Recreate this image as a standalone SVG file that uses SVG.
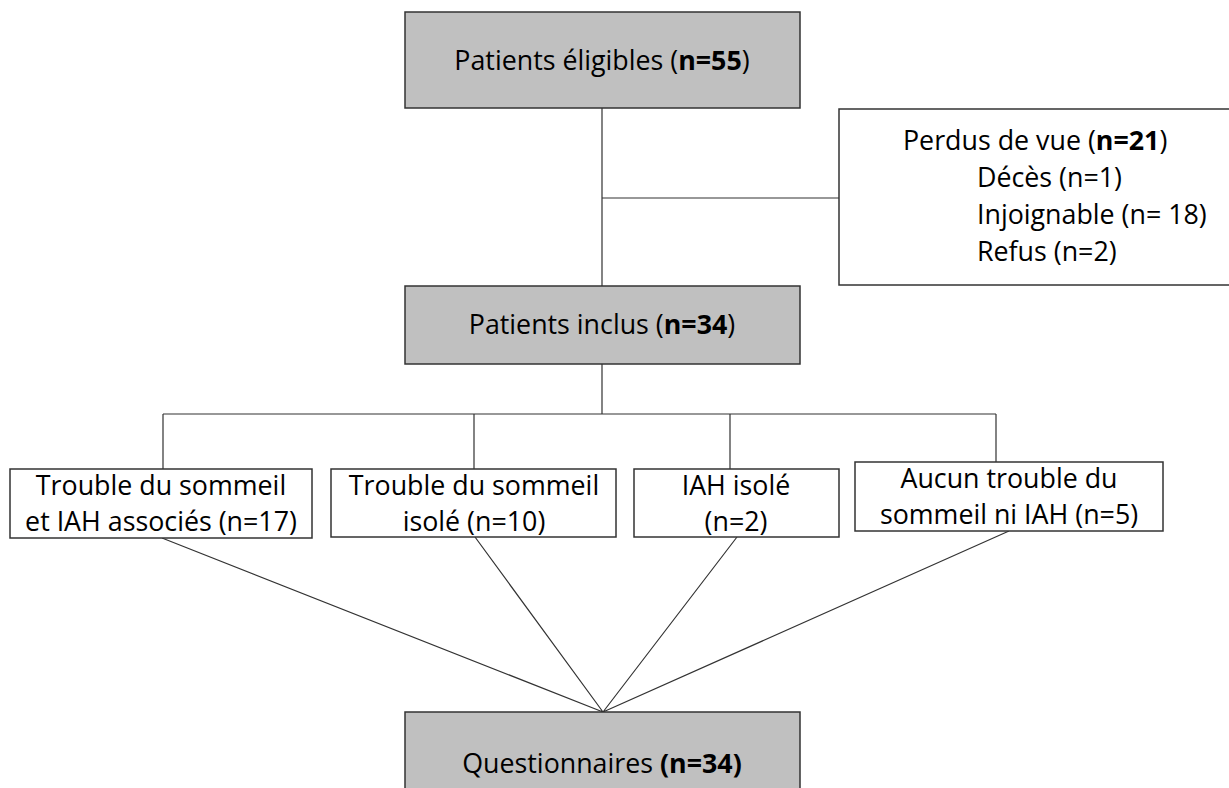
<svg xmlns="http://www.w3.org/2000/svg" width="1229" height="788" viewBox="0 0 1229 788">
<style>
.g{fill:#c0c0c0;stroke:#333;stroke-width:1.5}
.w{fill:#fff;stroke:#333;stroke-width:1.5}
.l{fill:none;stroke:#333;stroke-width:1.2}
text{font-family:"Open Sans","Liberation Sans",Arial,sans-serif;font-size:26.8px;fill:#000}
.c{text-anchor:middle}
.b{font-weight:bold}
</style>
<rect width="1229" height="788" fill="#fff"/>
<g id="connectors">
<path class="l" d="M602,108V286M602,198H839M602,364V414M163,414H996M163,414V469M474,414V469M730,414V469M996,414V462"/>
<path class="l" d="M162,538L603,712M475,537L603,712M737,537L603,712M1009,531L603,712"/>
</g>
<g id="eligibles">
<rect class="g" x="405" y="12" width="395" height="96"/>
<text class="c" x="602" y="70">Patients éligibles (<tspan class="b">n=55</tspan>)</text>
</g>
<g id="perdus">
<rect class="w" x="839" y="109" width="400" height="176"/>
<text x="903" y="150">Perdus de vue (<tspan class="b">n=21</tspan>)</text>
<text x="977" y="187">Décès (n=1)</text>
<text x="977" y="224">Injoignable (n= 18)</text>
<text x="977" y="261">Refus (n=2)</text>
</g>
<g id="inclus">
<rect class="g" x="405" y="286" width="395" height="78"/>
<text class="c" x="602" y="334">Patients inclus (<tspan class="b">n=34</tspan>)</text>
</g>
<g id="associes">
<rect class="w" x="10" y="469" width="302" height="69"/>
<text class="c" x="161" y="495">Trouble du sommeil</text>
<text class="c" x="161" y="531">et IAH associés (n=17)</text>
</g>
<g id="sommeil">
<rect class="w" x="331" y="469" width="285" height="68"/>
<text class="c" x="474" y="495">Trouble du sommeil</text>
<text class="c" x="474" y="531">isolé (n=10)</text>
</g>
<g id="iah">
<rect class="w" x="634" y="469" width="205" height="68"/>
<text class="c" x="736" y="495">IAH isolé</text>
<text class="c" x="736" y="531">(n=2)</text>
</g>
<g id="aucun">
<rect class="w" x="855" y="462" width="308" height="69"/>
<text class="c" x="1009" y="488">Aucun trouble du</text>
<text class="c" x="1009" y="524">sommeil ni IAH (n=5)</text>
</g>
<g id="questionnaires">
<rect class="g" x="405" y="712" width="395" height="90"/>
<text class="c" x="602" y="773">Questionnaires <tspan class="b">(n=34)</tspan></text>
</g>
</svg>
